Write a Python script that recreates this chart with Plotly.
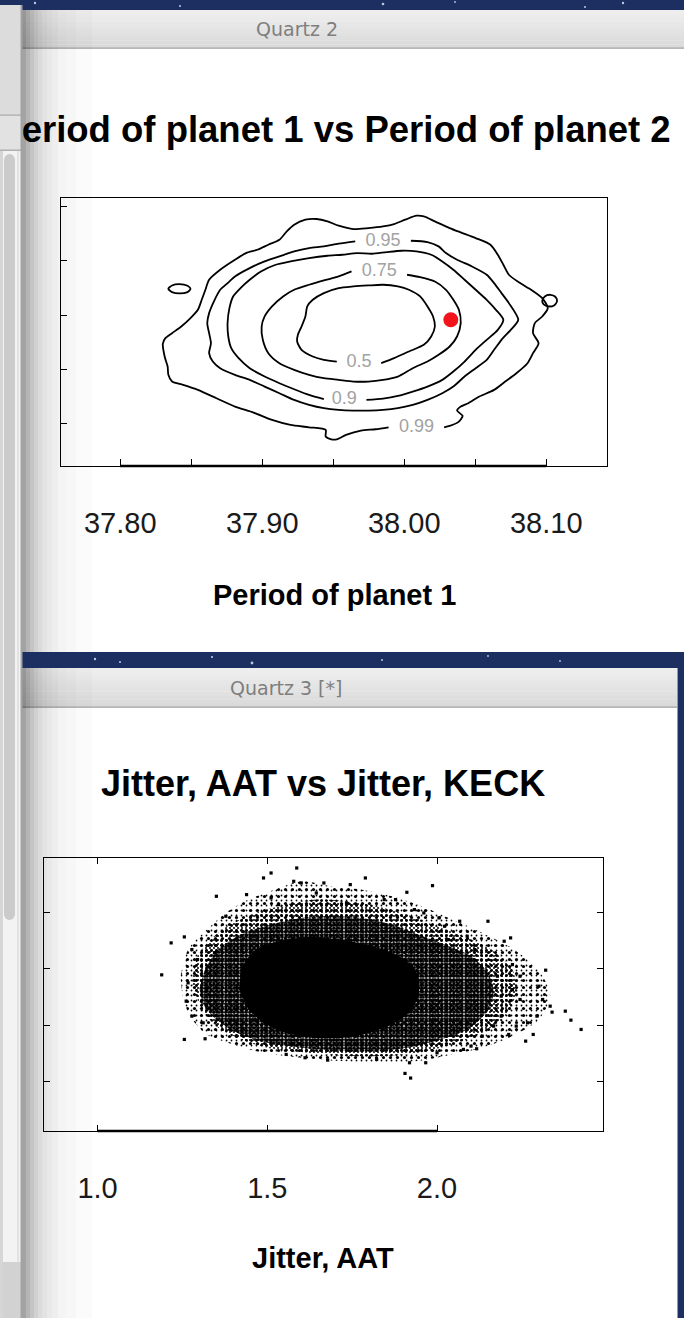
import plotly.graph_objects as go

W, H = 684, 1318

# ---------------- Period of planet 1 vs Period of planet 2 ----------------
# credible-region contours (open where the level label sits)
C99_X = [37.9890, 37.9799, 37.9695, 37.9590, 37.9525, 37.9486, 37.9447, 37.9447, 37.9330, 37.9199,
         37.9069, 37.8939, 37.8808, 37.8678, 37.8547, 37.8443, 37.8365, 37.8339, 37.8334, 37.8313,
         37.8300, 37.8318, 37.8365, 37.8430, 37.8495, 37.8547, 37.8574, 37.8600, 37.8626, 37.8704,
         37.8808, 37.8886, 37.8965, 37.9043, 37.9121, 37.9173, 37.9225, 37.9304, 37.9382, 37.9460,
         37.9538, 37.9642, 37.9747, 37.9851, 37.9929, 38.0007, 38.0086, 38.0138, 38.0216, 38.0320,
         38.0398, 38.0503, 38.0607, 38.0659, 38.0698, 38.0737, 38.0816, 38.0894, 38.0972, 38.1011,
         38.0972, 38.0920, 38.0907, 38.0946, 38.0907, 38.0868, 38.0790, 38.0711, 38.0633, 38.0529,
         38.0451, 38.0398, 38.0372, 38.0411, 38.0385, 38.0320, 38.0281]
C99_Y = [75.5877, 75.5804, 75.5755, 75.5595, 75.5436, 75.5436, 75.5534, 75.5779, 75.5877, 75.5963,
         75.6147, 75.6417, 75.6638, 75.6945, 75.7252, 75.7436, 75.7558, 75.7804, 75.8110, 75.8479,
         75.8945, 75.9153, 75.9337, 75.9583, 75.9890, 76.0196, 76.0564, 76.0933, 76.1301, 76.1669,
         76.2037, 76.2282, 76.2405, 76.2589, 76.2773, 76.3080, 76.3325, 76.3509, 76.3534, 76.3448,
         76.3288, 76.3166, 76.3202, 76.3264, 76.3350, 76.3509, 76.3656, 76.3632, 76.3448, 76.3202,
         76.3043, 76.2834, 76.2589, 76.2221, 76.1853, 76.1485, 76.1178, 76.0933, 76.0626, 76.0258,
         75.9951, 75.9706, 75.9337, 75.8969, 75.8601, 75.8233, 75.7865, 75.7558, 75.7252, 75.7006,
         75.6761, 75.6638, 75.6491, 75.6294, 75.6086, 75.5926, 75.5877]

ISLE_W_X = [37.8339, 37.8365, 37.8417, 37.8474, 37.8495, 37.8474, 37.8417, 37.8365, 37.8339]
ISLE_W_Y = [76.0969, 76.1092, 76.1141, 76.1080, 76.0969, 76.0847, 76.0798, 76.0847, 76.0969]
ISLE_E_X = [38.0972, 38.0990, 38.1029, 38.1066, 38.1076, 38.1055, 38.1019, 38.0982, 38.0972]
ISLE_E_Y = [76.0528, 76.0687, 76.0748, 76.0663, 76.0503, 76.0356, 76.0319, 76.0393, 76.0528]

C95_X = [38.0047, 38.0164, 38.0242, 38.0294, 38.0372, 38.0477, 38.0581, 38.0633, 38.0685, 38.0737,
         38.0803, 38.0750, 38.0685, 38.0633, 38.0581, 38.0503, 38.0425, 38.0346, 38.0268, 38.0164,
         38.0060, 37.9955, 37.9851, 37.9747, 37.9642, 37.9538, 37.9434, 37.9330, 37.9225, 37.9121,
         37.9017, 37.8912, 37.8808, 37.8704, 37.8652, 37.8626, 37.8639, 37.8626, 37.8613, 37.8626,
         37.8665, 37.8704, 37.8756, 37.8808, 37.8912, 37.9017, 37.9121, 37.9225, 37.9330, 37.9434,
         37.9538, 37.9655]
C95_Y = [76.2736, 76.2687, 76.2528, 76.2282, 76.2037, 76.1791, 76.1485, 76.1178, 76.0810, 76.0442,
         75.9828, 75.9460, 75.9092, 75.8724, 75.8356, 75.8049, 75.7742, 75.7374, 75.7129, 75.6883,
         75.6699, 75.6577, 75.6515, 75.6491, 75.6491, 75.6515, 75.6577, 75.6699, 75.6883, 75.7129,
         75.7374, 75.7620, 75.7804, 75.8049, 75.8294, 75.8601, 75.8969, 75.9337, 75.9706, 76.0074,
         76.0564, 76.0933, 76.1178, 76.1423, 76.1730, 76.1975, 76.2160, 76.2344, 76.2466, 76.2528,
         76.2626, 76.2712]

C90_X = [37.9734, 37.9851, 37.9955, 38.0060, 38.0164, 38.0268, 38.0346, 38.0425, 38.0503, 38.0581,
         38.0659, 38.0698, 38.0646, 38.0581, 38.0503, 38.0425, 38.0346, 38.0268, 38.0190, 38.0086,
         37.9981, 37.9877, 37.9773, 37.9668, 37.9564, 37.9460, 37.9330, 37.9199, 37.9095, 37.8991,
         37.8912, 37.8847, 37.8795, 37.8769, 37.8756, 37.8761, 37.8782, 37.8834, 37.8912, 37.9017,
         37.9121, 37.9225, 37.9330, 37.9434]
C90_Y = [75.6883, 75.6933, 75.7031, 75.7190, 75.7374, 75.7620, 75.7926, 75.8294, 75.8724, 75.9092,
         75.9460, 75.9828, 76.0196, 76.0564, 76.0933, 76.1301, 76.1669, 76.1975, 76.2221, 76.2344,
         76.2368, 76.2319, 76.2258, 76.2282, 76.2221, 76.2184, 76.2098, 76.1975, 76.1853, 76.1607,
         76.1301, 76.0994, 76.0687, 76.0258, 75.9706, 75.9215, 75.8785, 75.8417, 75.8049, 75.7742,
         75.7497, 75.7276, 75.7067, 75.6908]

C75_X = [38.0020, 38.0112, 38.0216, 38.0294, 38.0346, 38.0385, 38.0398, 38.0372, 38.0320, 38.0242,
         38.0164, 38.0060, 37.9955, 37.9851, 37.9747, 37.9642, 37.9538, 37.9434, 37.9330, 37.9225,
         37.9121, 37.9043, 37.9004, 37.8996, 37.9017, 37.9069, 37.9147, 37.9225, 37.9330, 37.9434,
         37.9538, 37.9629]
C75_Y = [76.1485, 76.1399, 76.1239, 76.0933, 76.0564, 76.0196, 75.9706, 75.9215, 75.8847, 75.8540,
         75.8294, 75.8049, 75.7742, 75.7620, 75.7558, 75.7558, 75.7620, 75.7681, 75.7804, 75.7988,
         75.8233, 75.8601, 75.9092, 75.9583, 75.9951, 76.0319, 76.0687, 76.0933, 76.1117, 76.1276,
         76.1423, 76.1607]

C50_X = [37.9838, 37.9929, 38.0033, 38.0138, 38.0190, 38.0216, 38.0203, 38.0164, 38.0112, 38.0033,
         37.9955, 37.9851, 37.9747, 37.9642, 37.9538, 37.9434, 37.9356, 37.9317, 37.9304, 37.9277,
         37.9251, 37.9246, 37.9277, 37.9356, 37.9434, 37.9525]
C50_Y = [75.8233, 75.8417, 75.8663, 75.8908, 75.9215, 75.9583, 75.9951, 76.0319, 76.0687, 76.0933,
         76.1055, 76.1117, 76.1092, 76.1055, 76.0994, 76.0810, 76.0564, 76.0319, 75.9951, 75.9583,
         75.9276, 75.9031, 75.8724, 75.8479, 75.8356, 75.8294]

LEVEL_TEXT = ["0.95", "0.75", "0.5", "0.9", "0.99"]
LEVEL_TEXT_X = [37.9851, 37.9825, 37.9682, 37.9577, 38.0086]
LEVEL_TEXT_Y = [76.2712, 76.1607, 75.8258, 75.6883, 75.5877]

TRUE_P1 = [38.0328]
TRUE_P2 = [75.9828]

P1_TICKS = [37.80, 37.85, 37.90, 37.95, 38.00, 38.05, 38.10]
P1_TICKTEXT = ["37.80", "", "37.90", "", "38.00", "", "38.10"]
P2_TICKS = [75.6, 75.8, 76.0, 76.2, 76.4]

# ---------------- Jitter, AAT vs Jitter, KECK ----------------
# saturated core of the cloud
CORE_X = [1.4167, 1.4278, 1.4667, 1.5333, 1.6222, 1.7111, 1.7889, 1.8556, 1.9111, 1.9444,
          1.9444, 1.9167, 1.8667, 1.8000, 1.7222, 1.6333, 1.5556, 1.4889, 1.4444]
CORE_Y = [2.6329, 3.0454, 3.3400, 3.4873, 3.5639, 3.5168, 3.4284, 3.3105, 3.1338, 2.8686,
          2.5150, 2.2204, 2.0141, 1.8668, 1.7785, 1.7785, 1.8668, 2.0436, 2.2793]
# densely speckled band
MID_X = [1.3000, 1.3167, 1.3556, 1.4222, 1.5111, 1.6000, 1.6889, 1.7778, 1.8667, 1.9444,
         2.0222, 2.1000, 2.1500, 2.1667, 2.1444, 2.0889, 2.0111, 1.9111, 1.8000, 1.6889,
         1.5778, 1.4778, 1.4000, 1.3444, 1.3111]
MID_Y = [2.6329, 2.9864, 3.3400, 3.6052, 3.7820, 3.8998, 3.9293, 3.8998, 3.7820, 3.6052,
         3.4284, 3.2222, 2.9275, 2.5740, 2.2204, 1.9257, 1.7490, 1.6017, 1.5427, 1.5545,
         1.6193, 1.7195, 1.8963, 2.1320, 2.3677]
# medium-density halo
HALO_X = [1.2778, 1.2944, 1.3333, 1.3889, 1.4667, 1.5556, 1.6444, 1.7333, 1.8222, 1.9111,
          2.0000, 2.0889, 2.1667, 2.2222, 2.2333, 2.2000, 2.1333, 2.0444, 1.9444, 1.8333,
          1.7111, 1.6000, 1.5000, 1.4222, 1.3556, 1.3056]
HALO_Y = [2.7507, 3.2222, 3.5168, 3.7820, 3.9882, 4.1355, 4.2239, 4.1945, 4.1061, 3.9588,
          3.7525, 3.5463, 3.3105, 2.9864, 2.5740, 2.1615, 1.8668, 1.6606, 1.5133, 1.4543,
          1.4661, 1.5251, 1.6017, 1.7490, 1.9552, 2.2793]
# thin fringe
FRINGE_X = [1.2444, 1.2667, 1.3222, 1.3778, 1.4444, 1.5222, 1.6000, 1.6889, 1.7778, 1.8667,
            1.9556, 2.0444, 2.1333, 2.2111, 2.2667, 2.3111, 2.3333, 2.3000, 2.2222, 2.1333,
            2.0444, 1.9444, 1.8333, 1.7111, 1.6000, 1.4889, 1.4000, 1.3222, 1.2722, 1.2500]
FRINGE_Y = [2.8686, 3.3400, 3.6936, 3.9882, 4.2239, 4.4007, 4.5480, 4.4596, 4.4007, 4.2829,
            4.1061, 3.8704, 3.6347, 3.3989, 3.1632, 2.8686, 2.5150, 2.1025, 1.8079, 1.6017,
            1.4838, 1.3660, 1.3365, 1.3660, 1.4249, 1.5133, 1.6606, 1.8374, 2.1615, 2.5150]
# isolated draws outside the bulk
LONE_X = [1.5867, 1.5111, 1.7889, 1.9867, 1.6000, 1.6667, 1.3500, 2.0667, 2.1500, 2.0056,
          2.2167, 2.1978, 1.2167, 1.2556, 1.1889, 2.3200, 2.2222, 2.2444, 2.3000, 2.1778,
          2.3333, 2.3778, 2.3944, 2.4244, 2.3389, 2.2833, 2.2611, 2.2333, 2.2111, 1.2556,
          1.3167, 1.9056, 1.9222, 1.9189, 1.8222, 1.6111, 1.6778, 2.1167, 2.1000, 2.1667,
          2.2444, 2.2944, 1.4389, 1.3778, 1.5111, 1.5333, 1.7444, 1.8444, 1.9111, 1.9333,
          1.9611, 2.0333, 2.0889, 1.2778, 1.2944, 1.2667, 1.2611, 1.2778, 1.3111, 2.1889,
          2.1333, 2.3111, 2.2667, 1.8778, 1.6444, 1.4889, 1.5778, 1.7333, 2.1889, 2.2222,
          1.3444, 1.3222, 2.0222, 2.1111, 2.0778, 2.0000, 1.5556, 1.9667]
LONE_Y = [4.7837, 4.6953, 4.6070, 4.4714, 4.5186, 4.5186, 4.2829, 3.8409, 3.8409, 3.8998,
          3.5463, 3.4873, 3.4579, 3.5639, 2.8922, 2.9747, 3.0748, 2.8686, 2.6918, 2.8686,
          2.3382, 2.2498, 2.0907, 1.9257, 2.2322, 1.8374, 1.7195, 1.9847, 1.8374, 1.7490,
          1.7608, 1.1479, 1.0655, 1.3365, 1.3954, 1.4249, 1.3836, 1.5840, 1.6311, 1.9847,
          2.4561, 2.1615, 4.3123, 3.9293, 4.2534, 4.1355, 4.4891, 4.2239, 4.3536, 4.0471,
          3.9882, 3.5168, 3.5757, 3.3400, 3.1632, 2.7507, 2.4266, 2.1615, 2.0436, 2.1615,
          1.8079, 2.4561, 2.0436, 4.2239, 4.3418, 4.6070, 4.5480, 4.1650, 2.5150, 2.6329,
          3.2811, 2.6329, 3.7525, 3.3400, 1.5722, 1.5133, 1.4838, 1.3365]

AAT_TICKS = [1.0, 1.5, 2.0]
AAT_TICKTEXT = ["1.0", "1.5", "2.0"]
KECK_TICKS = [1, 2, 3, 4]

# ---------------- page geometry (pixels) ----------------
TOP_BOX = (61, 198, 607, 466)
BOT_BOX = (44, 858, 603, 1131)
LEFT_EDGE = 22
NAVY = "#1c2f60"
SANS = "Liberation Sans, Arial, Helvetica, sans-serif"
UI = "DejaVu Sans, Noto Sans, sans-serif"


def fx(px):
    return px / W


def fy(py):
    return 1 - py / H


def rect(x0, y0, x1, y1, color, layer="below"):
    return dict(type="rect", xref="paper", yref="paper", x0=fx(x0), x1=fx(x1),
                y0=fy(y1), y1=fy(y0), fillcolor=color, line=dict(width=0), layer=layer)


def circle(x0, y0, x1, y1, color, layer="below"):
    return dict(type="circle", xref="paper", yref="paper", x0=fx(x0), x1=fx(x1),
                y0=fy(y1), y1=fy(y0), fillcolor=color, line=dict(width=0), layer=layer)


def gray(v):
    v = int(round(v))
    return f"rgb({v},{v},{v})"


shapes = []
# a few stars on the desktop
for sx, sy, r in [(35, 3, 1.2), (180, 6, 1.0), (383, 4, 1.3), (585, 7, 1.0), (623, 3, 1.2),
                  (455, 2, 0.9), (95, 659, 1.2), (120, 662, 1.0), (212, 657, 1.1),
                  (252, 663, 1.4), (382, 660, 1.0), (488, 656, 0.9), (560, 661, 0.9)]:
    shapes.append(circle(sx - r, sy - r, sx + r, sy + r, "rgba(220,225,245,0.85)"))


def window(x0, y0, x1, y1, bar_h):
    out = [rect(x0, y0, x1, y1, "white")]
    n = 10
    for i in range(n):
        a = y0 + bar_h * i / n
        b = y0 + bar_h * (i + 1) / n
        out.append(rect(x0, a, x1, b + 0.4, gray(238 - 20 * i / (n - 1))))
    out.append(rect(x0, y0 + bar_h - 0.6, x1, y0 + bar_h + 0.8, "#a4a4a4"))
    # drop shadow of the window lying on the left
    edges = [22, 26, 30, 34, 38, 42, 47, 52, 58, 66, 76, 92]
    alphas = [0.36, 0.29, 0.23, 0.18, 0.14, 0.11, 0.085, 0.065, 0.045, 0.03, 0.015]
    for a, b, al in zip(edges[:-1], edges[1:], alphas):
        out.append(rect(a, y0, b, y1, f"rgba(0,0,0,{al})"))
    return out


shapes += window(LEFT_EDGE, 10, 684, 652, 38)
shapes += window(LEFT_EDGE, 668, 678, 1318, 39)
shapes.append(rect(677, 668, 678, 1318, "#9a9a9a"))

# window partially hidden on the left
above = "above"
shapes += [
    rect(0, 5, 22, 1318, "#f3f3f3", above),
    rect(0, 5, 22, 115, "#dcdcdc", above),
    rect(0, 114.5, 22, 115.8, "#aaaaaa", above),
    rect(0, 116, 22, 150, "#e2e2e2", above),
    rect(0, 149.5, 22, 151, "#b0b0b0", above),
    rect(3, 1262, 22, 1318, "#d2d2d2", above),
    rect(0, 151, 3, 1318, "#d6d6d6", above),
    rect(17, 151, 19, 1262, "#e2e2e2", above),
    rect(4, 160, 15, 914, "#cbcbcb", above),
    circle(4, 154, 15, 166, "#cbcbcb", above),
    circle(4, 908, 15, 920, "#cbcbcb", above),
    rect(20.5, 5, 22.5, 1318, "#a2a2a2", above),
]

# heavier axis segment spanning the labelled ticks
shapes.append(dict(type="line", xref="x", yref="y domain", x0=P1_TICKS[0], x1=P1_TICKS[-1],
                   y0=0, y1=0, line=dict(color="black", width=2.6), layer="above"))
shapes.append(dict(type="line", xref="x2", yref="y2 domain", x0=AAT_TICKS[0], x1=AAT_TICKS[-1],
                   y0=0, y1=0, line=dict(color="black", width=2.6), layer="above"))

fig = go.Figure()

contour_line = dict(color="black", width=1.8, shape="spline", smoothing=0.7)
for xs, ys in [(C99_X, C99_Y), (ISLE_W_X, ISLE_W_Y), (ISLE_E_X, ISLE_E_Y), (C95_X, C95_Y),
               (C90_X, C90_Y), (C75_X, C75_Y), (C50_X, C50_Y)]:
    fig.add_trace(go.Scatter(x=xs, y=ys, mode="lines", line=contour_line,
                             xaxis="x", yaxis="y", hoverinfo="skip"))

fig.add_trace(go.Scatter(x=LEVEL_TEXT_X, y=LEVEL_TEXT_Y, mode="text", text=LEVEL_TEXT,
                         textfont=dict(family=SANS, size=18, color="#a2a2a2"),
                         xaxis="x", yaxis="y", hoverinfo="skip"))
fig.add_trace(go.Scatter(x=TRUE_P1, y=TRUE_P2, mode="markers",
                         marker=dict(color="#f2141b", size=15, line=dict(width=0)),
                         xaxis="x", yaxis="y"))


def dotted_region(xs, ys, size, solidity):
    return go.Scatter(x=xs, y=ys, mode="lines", fill="toself",
                      line=dict(width=0, shape="spline", smoothing=0.8),
                      fillpattern=dict(shape=".", size=size, solidity=solidity, fgcolor="black",
                                       bgcolor="rgba(0,0,0,0)", fillmode="replace"),
                      xaxis="x2", yaxis="y2", hoverinfo="skip")


# jitter cloud, from the sparse fringe inward to the saturated core
fig.add_trace(dotted_region(FRINGE_X, FRINGE_Y, 7, 0.16))
fig.add_trace(dotted_region(FRINGE_X, FRINGE_Y, 5, 0.10))
fig.add_trace(dotted_region(HALO_X, HALO_Y, 5, 0.28))
fig.add_trace(dotted_region(HALO_X, HALO_Y, 4, 0.20))
fig.add_trace(dotted_region(MID_X, MID_Y, 3, 0.55))
fig.add_trace(dotted_region(MID_X, MID_Y, 4, 0.55))
fig.add_trace(go.Scatter(x=CORE_X, y=CORE_Y, mode="lines", fill="toself", fillcolor="black",
                         line=dict(width=0, shape="spline", smoothing=0.8),
                         xaxis="x2", yaxis="y2", hoverinfo="skip"))
fig.add_trace(go.Scatter(x=LONE_X, y=LONE_Y, mode="markers",
                         marker=dict(color="black", size=3.2, symbol="square", line=dict(width=0)),
                         xaxis="x2", yaxis="y2", hoverinfo="skip"))

# main title of the upper window; the pixel axes start at the edge of the left window,
# so whatever falls behind that window is clipped away
fig.add_trace(go.Scatter(x=[334], y=[133], mode="text", cliponaxis=True,
                         text=["Period of planet 1 vs Period of planet 2"],
                         textfont=dict(family=SANS, size=36.5, color="black", weight="bold"),
                         xaxis="x3", yaxis="y3", hoverinfo="skip"))

tickfont = dict(family=SANS, size=29, color="#1a1a1a")
axis_common = dict(showline=True, linecolor="black", linewidth=1.3, ticks="inside",
                   tickcolor="black", tickwidth=1.3, showgrid=False, zeroline=False,
                   tickfont=tickfont, fixedrange=True)


def label(text, xref, x, y, size, color="black", family=SANS, bold=True):
    return dict(text=text, xref=xref, yref="paper", x=x, y=y, xanchor="center",
                yanchor="middle", showarrow=False,
                font=dict(family=family, size=size, color=color,
                          weight="bold" if bold else "normal"))


fig.update_layout(
    width=W, height=H, margin=dict(l=0, r=0, t=0, b=0),
    paper_bgcolor=NAVY, plot_bgcolor="rgba(0,0,0,0)", showlegend=False,
    shapes=shapes,
    xaxis=dict(domain=[fx(TOP_BOX[0]), fx(TOP_BOX[2])], range=[37.7583, 38.1428],
               tickvals=P1_TICKS, ticktext=P1_TICKTEXT, ticklen=7, mirror=True,
               ticklabelstandoff=31, anchor="y", **axis_common),
    yaxis=dict(domain=[fy(TOP_BOX[3]), fy(TOP_BOX[1])], range=[75.4453, 76.4307],
               tickvals=P2_TICKS, showticklabels=False, ticklen=6, mirror=True,
               anchor="x", **axis_common),
    xaxis2=dict(domain=[fx(BOT_BOX[0]), fx(BOT_BOX[2])], range=[0.8422, 2.4889],
                tickvals=AAT_TICKS, ticktext=AAT_TICKTEXT, ticklen=6, mirror="ticks",
                ticklabelstandoff=31, anchor="y2", **axis_common),
    yaxis2=dict(domain=[fy(BOT_BOX[3]), fy(BOT_BOX[1])], range=[0.1285, 4.9605],
                tickvals=KECK_TICKS, showticklabels=False, ticklen=6, mirror="ticks",
                anchor="x2", **axis_common),
    xaxis3=dict(domain=[fx(LEFT_EDGE + 0.5), 1], range=[LEFT_EDGE + 0.5, W], visible=False,
                anchor="y3", fixedrange=True),
    yaxis3=dict(domain=[0, 1], range=[H, 0], visible=False, anchor="x3", fixedrange=True),
    annotations=[
        label("Quartz 2", "paper", fx(297), fy(29), 19, "#7e7e7e", UI, False),
        label("Quartz 3 [*]", "paper", fx(286), fy(688), 19, "#7e7e7e", UI, False),
        label("Period of planet 1", "x domain", 0.5, fy(595), 29),
        label("Jitter, AAT vs Jitter, KECK", "x2 domain", 0.5, fy(783), 36),
        label("Jitter, AAT", "x2 domain", 0.5, fy(1258), 29),
    ],
)

fig.write_html("out.html", config={"displayModeBar": False})
